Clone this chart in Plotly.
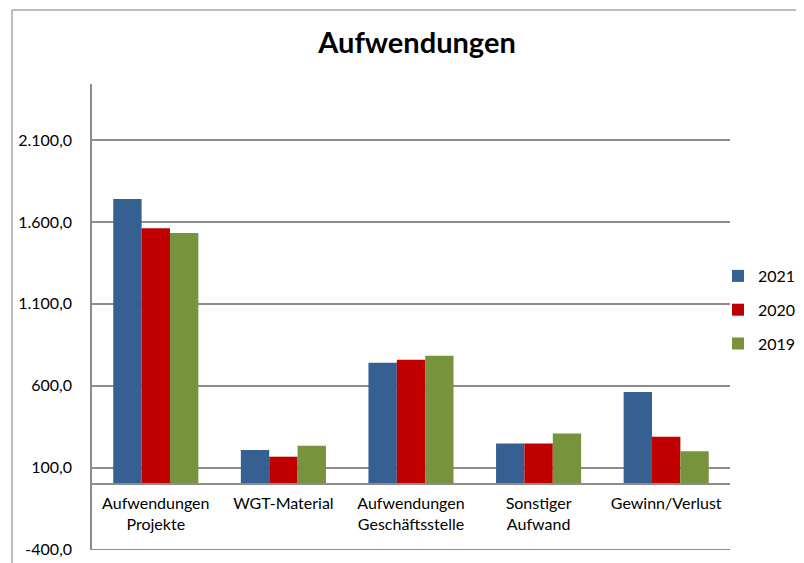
import plotly.graph_objects as go

categories = ["Aufwendungen<br>Projekte", "WGT-Material", "Aufwendungen<br>Geschäftsstelle",
              "Sonstiger<br>Aufwand", "Gewinn/Verlust"]
years = ["2021", "2020", "2019"]
values_2021 = [1739, 209, 741, 248, 562]
values_2020 = [1562, 168, 759, 248, 290]
values_2019 = [1532, 235, 783, 309, 201]
series_values = [values_2021, values_2020, values_2019]
colors = ["#376092", "#C00000", "#77933C"]

tick_vals = [-400, 100, 600, 1100, 1600, 2100]

def de_fmt(v):
    s = f"{v:,.1f}"
    s = s.replace(",", "X").replace(".", ",").replace("X", ".")
    return s

tick_text = [de_fmt(v) for v in tick_vals]

FONT = "Lato"
W, H = 804, 563
OFF = 8  # page body margin offset
L, R, T, B = 92 - OFF, 730 - OFF, 84 - OFF, 550 - OFF
ymin, ymax = -401, 2441
PW = W - L  # plot width with r margin 0
PH = B - T

fig = go.Figure()
for i, (name, vals) in enumerate(zip(years, series_values)):
    fig.add_trace(go.Bar(
        x=categories, y=vals, name=name, legendgroup=name,
        marker=dict(color=colors[i], line=dict(width=0)),
    ))

zero_pos = (0 - ymin) / (ymax - ymin)
fx = (12 - OFF - L) / PW
fy = (B - (10 - OFF)) / PH

fig.update_layout(
    width=W, height=H,
    margin=dict(l=L, r=0, t=T, b=H - B, pad=0, autoexpand=False),
    paper_bgcolor="white", plot_bgcolor="white",
    barmode="group", bargap=0.333, bargroupgap=0,
    font=dict(family=FONT, size=16, color="#000000"),
    title=dict(text="<b>Aufwendungen</b>", x=(417 - OFF - L) / PW, xref="paper",
               xanchor="center", y=1 - (43 - OFF) / H, yref="container", yanchor="middle",
               font=dict(family=FONT, size=29, color="#000000")),
    xaxis=dict(domain=[0, (R - L) / PW], anchor="free", position=zero_pos,
               showline=True, linecolor="#8c8c8c", automargin=False,
               linewidth=1.5, showgrid=False, ticks="", tickfont=dict(size=16),
               ticklabelstandoff=5),
    yaxis=dict(range=[ymin, ymax], tickvals=tick_vals, ticktext=tick_text,
               showline=True, linecolor="#8c8c8c", linewidth=1.5, automargin=False,
               showgrid=True, gridcolor="#8c8c8c", gridwidth=1.5,
               zeroline=False, ticks="", ticklabelstandoff=15,
               tickfont=dict(size=16)),
    legend=dict(x=(718 - OFF - L) / PW, xanchor="left", y=(B - (259 - OFF)) / PH,
                yanchor="top", font=dict(size=16), tracegroupgap=10,
                bgcolor="rgba(0,0,0,0)"),
    shapes=[
        dict(type="line", xref="x domain", yref="y", x0=0, x1=1,
             y0=tick_vals[0], y1=tick_vals[0],
             line=dict(color="#8c8c8c", width=1.5), layer="below"),
        dict(type="line", xref="paper", yref="paper", x0=fx, x1=fx, y0=-1, y1=fy,
             line=dict(color="#a6a6a6", width=1.5)),
        dict(type="line", xref="paper", yref="paper", x0=fx, x1=2, y0=fy, y1=fy,
             line=dict(color="#a6a6a6", width=1.5)),
    ],
)

fig.write_html("out.html")
